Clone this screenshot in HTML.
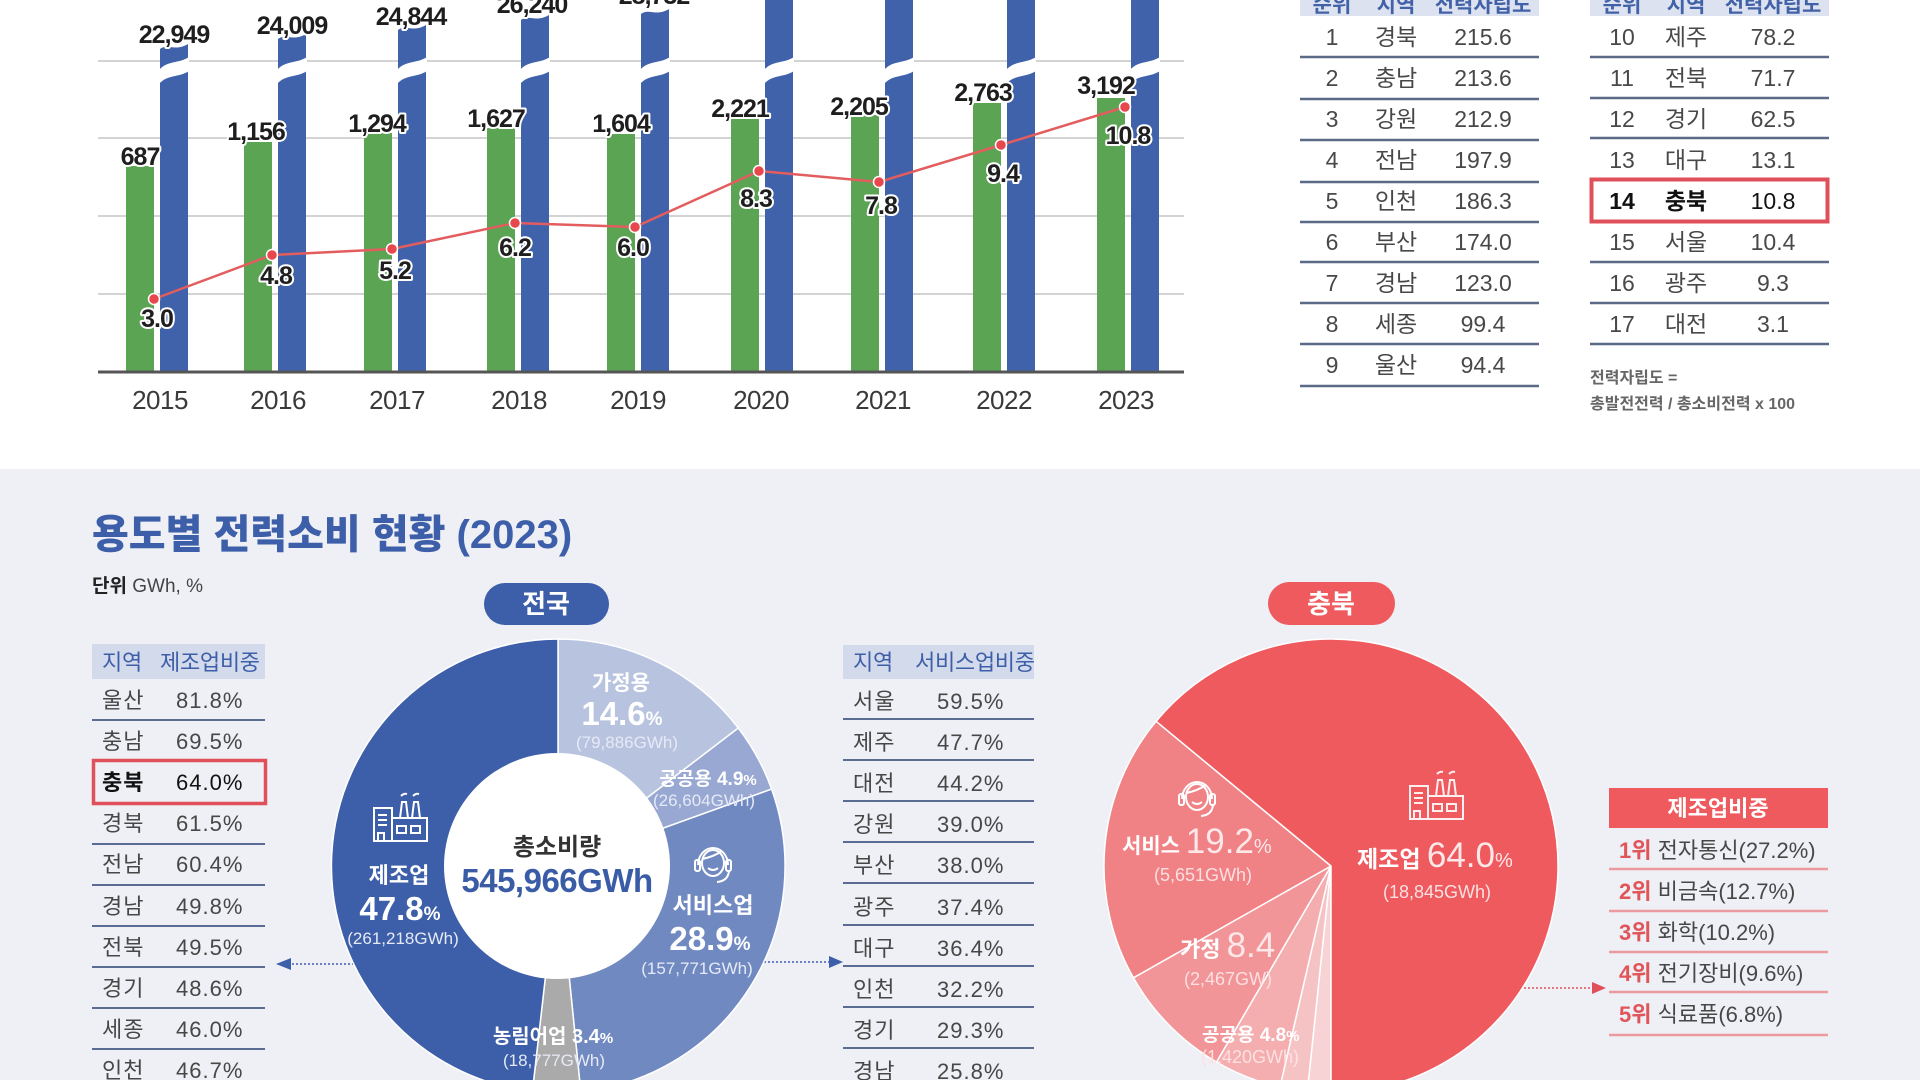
<!DOCTYPE html>
<html><head><meta charset="utf-8"><style>
html,body{margin:0;padding:0;background:#fff;}
body{width:1920px;height:1080px;overflow:hidden;}
svg{display:block;}
text{font-family:"Liberation Sans","Noto Sans CJK KR",sans-serif;}
.lbl{font-weight:bold;font-size:25px;fill:#1e1e1e;stroke:#fff;stroke-width:4px;paint-order:stroke;stroke-linejoin:round;letter-spacing:-1px;text-anchor:middle;}
.yr{font-size:26px;fill:#3a3a3a;text-anchor:middle;letter-spacing:-0.5px;}
.tt{font-size:23px;fill:#484848;text-anchor:middle;}
.th{font-size:21px;fill:#4262a8;font-weight:bold;text-anchor:middle;}
.bt{font-size:22px;fill:#474747;letter-spacing:1px;}
.bh{font-size:22px;fill:#3d5ea8;font-weight:normal;letter-spacing:-0.3px;}
.w{fill:#fff;text-anchor:middle;}
.sub{fill:#e6eaf6;font-size:17px;text-anchor:middle;}
.rsub{fill:#fde0e1;font-size:18px;text-anchor:middle;}
.rl{font-size:22px;fill:#474747;}
.rn{font-weight:bold;fill:#e0555a;}
</style></head><body>
<svg width="1920" height="1080" viewBox="0 0 1920 1080" xmlns="http://www.w3.org/2000/svg">
<rect width="1920" height="1080" fill="#fff"/>
<rect y="469" width="1920" height="611" fill="#eef0f5"/>

<!-- grid -->
<g stroke="#d3d3d3" stroke-width="2">
<line x1="98" y1="61" x2="1184" y2="61"/>
<line x1="98" y1="138" x2="1184" y2="138"/>
<line x1="98" y1="216" x2="1184" y2="216"/>
<line x1="98" y1="294" x2="1184" y2="294"/>
</g>

<!-- green bars -->
<g fill="#5ba454">
<rect x="126" y="166" width="28" height="206"/>
<rect x="244" y="142" width="28" height="230"/>
<rect x="364" y="133" width="28" height="239"/>
<rect x="487" y="128" width="28" height="244"/>
<rect x="607" y="134" width="28" height="238"/>
<rect x="731" y="119" width="28" height="253"/>
<rect x="851" y="115" width="28" height="257"/>
<rect x="973" y="103" width="28" height="269"/>
<rect x="1097" y="98" width="28" height="274"/>
</g>
<!-- blue bars -->
<g fill="#3f62ab">
<path d="M160,49 C168,43 174,52 188,44 L188,372 L160,372 Z"/>
<path d="M278,39 C286,33 292,42 306,34 L306,372 L278,372 Z"/>
<path d="M398,30 C406,24 412,33 426,25 L426,372 L398,372 Z"/>
<path d="M521,20 C529,14 535,23 549,15 L549,372 L521,372 Z"/>
<path d="M641,14 C649,8 655,17 669,9 L669,372 L641,372 Z"/>
<rect x="765" y="-10" width="28" height="382"/>
<rect x="885" y="-10" width="28" height="382"/>
<rect x="1007" y="-10" width="28" height="382"/>
<rect x="1131" y="-10" width="28" height="382"/>
</g>
<!-- breaks -->
<g fill="#fff">
<path d="M159,70 C168,60 178,64 189,57 L189,71 C178,78 168,74 159,84 Z"/>
<path d="M277,70 C286,60 296,64 307,57 L307,71 C296,78 286,74 277,84 Z"/>
<path d="M397,70 C406,60 416,64 427,57 L427,71 C416,78 406,74 397,84 Z"/>
<path d="M520,70 C529,60 539,64 550,57 L550,71 C539,78 529,74 520,84 Z"/>
<path d="M640,70 C649,60 659,64 670,57 L670,71 C659,78 649,74 640,84 Z"/>
<path d="M764,70 C773,60 783,64 794,57 L794,71 C783,78 773,74 764,84 Z"/>
<path d="M884,70 C893,60 903,64 914,57 L914,71 C903,78 893,74 884,84 Z"/>
<path d="M1006,70 C1015,60 1025,64 1036,57 L1036,71 C1025,78 1015,74 1006,84 Z"/>
<path d="M1130,70 C1139,60 1149,64 1160,57 L1160,71 C1149,78 1139,74 1130,84 Z"/>
</g>
<line x1="98" y1="372" x2="1184" y2="372" stroke="#555" stroke-width="3"/>

<!-- line -->
<polyline points="154,299 272,255 392,249 515,223 635,227 759,171 879,182 1001,145 1125,107" fill="none" stroke="#e35d5f" stroke-width="2.5"/>
<g fill="#e8474e" stroke="#fff" stroke-width="1.5">
<circle cx="154" cy="299" r="5.5"/><circle cx="272" cy="255" r="5.5"/><circle cx="392" cy="249" r="5.5"/>
<circle cx="515" cy="223" r="5.5"/><circle cx="635" cy="227" r="5.5"/><circle cx="759" cy="171" r="5.5"/>
<circle cx="879" cy="182" r="5.5"/><circle cx="1001" cy="145" r="5.5"/><circle cx="1125" cy="107" r="5.5"/>
</g>

<!-- labels blue -->
<text class="lbl" x="174" y="43">22,949</text>
<text class="lbl" x="292" y="34">24,009</text>
<text class="lbl" x="411" y="25">24,844</text>
<text class="lbl" x="532" y="13">26,240</text>
<text class="lbl" x="654" y="4">28,732</text>
<!-- labels green -->
<text class="lbl" x="140" y="165">687</text>
<text class="lbl" x="256" y="140">1,156</text>
<text class="lbl" x="377" y="132">1,294</text>
<text class="lbl" x="496" y="127">1,627</text>
<text class="lbl" x="621" y="132">1,604</text>
<text class="lbl" x="740" y="117">2,221</text>
<text class="lbl" x="859" y="115">2,205</text>
<text class="lbl" x="983" y="101">2,763</text>
<text class="lbl" x="1106" y="94">3,192</text>
<!-- line labels -->
<text class="lbl" x="157" y="327">3.0</text>
<text class="lbl" x="276" y="284">4.8</text>
<text class="lbl" x="395" y="279">5.2</text>
<text class="lbl" x="515" y="256">6.2</text>
<text class="lbl" x="633" y="256">6.0</text>
<text class="lbl" x="756" y="207">8.3</text>
<text class="lbl" x="881" y="214">7.8</text>
<text class="lbl" x="1003" y="182">9.4</text>
<text class="lbl" x="1128" y="144">10.8</text>
<!-- years -->
<text class="yr" x="160" y="409">2015</text>
<text class="yr" x="278" y="409">2016</text>
<text class="yr" x="397" y="409">2017</text>
<text class="yr" x="519" y="409">2018</text>
<text class="yr" x="638" y="409">2019</text>
<text class="yr" x="761" y="409">2020</text>
<text class="yr" x="883" y="409">2021</text>
<text class="yr" x="1004" y="409">2022</text>
<text class="yr" x="1126" y="409">2023</text>

<!-- top tables -->
<rect x="1300" y="-6" width="239" height="22" fill="#dde2f0"/>
<rect x="1590" y="-6" width="239" height="22" fill="#dde2f0"/>
<text class="th" x="1332" y="12">순위</text><text class="th" x="1396" y="12">지역</text><text class="th" x="1483" y="12">전력자립도</text>
<text class="th" x="1622" y="12">순위</text><text class="th" x="1686" y="12">지역</text><text class="th" x="1773" y="12">전력자립도</text>
<g stroke="#5b6a86" stroke-width="2.5">
<line x1="1300" y1="57" x2="1539" y2="57"/><line x1="1300" y1="99" x2="1539" y2="99"/><line x1="1300" y1="140" x2="1539" y2="140"/>
<line x1="1300" y1="182" x2="1539" y2="182"/><line x1="1300" y1="222" x2="1539" y2="222"/><line x1="1300" y1="262" x2="1539" y2="262"/>
<line x1="1300" y1="303" x2="1539" y2="303"/><line x1="1300" y1="344" x2="1539" y2="344"/><line x1="1300" y1="386" x2="1539" y2="386"/>
<line x1="1590" y1="57" x2="1829" y2="57"/><line x1="1590" y1="98" x2="1829" y2="98"/><line x1="1590" y1="138" x2="1829" y2="138"/>
<line x1="1590" y1="262" x2="1829" y2="262"/><line x1="1590" y1="303" x2="1829" y2="303"/><line x1="1590" y1="344" x2="1829" y2="344"/>
</g>
<rect x="1591.5" y="179.5" width="236" height="42" fill="none" stroke="#e0505a" stroke-width="4"/>
<g class="tt">
<text class="tt" x="1332" y="45">1</text><text class="tt" x="1396" y="45">경북</text><text class="tt" x="1483" y="45">215.6</text>
<text class="tt" x="1332" y="86">2</text><text class="tt" x="1396" y="86">충남</text><text class="tt" x="1483" y="86">213.6</text>
<text class="tt" x="1332" y="127">3</text><text class="tt" x="1396" y="127">강원</text><text class="tt" x="1483" y="127">212.9</text>
<text class="tt" x="1332" y="168">4</text><text class="tt" x="1396" y="168">전남</text><text class="tt" x="1483" y="168">197.9</text>
<text class="tt" x="1332" y="209">5</text><text class="tt" x="1396" y="209">인천</text><text class="tt" x="1483" y="209">186.3</text>
<text class="tt" x="1332" y="250">6</text><text class="tt" x="1396" y="250">부산</text><text class="tt" x="1483" y="250">174.0</text>
<text class="tt" x="1332" y="291">7</text><text class="tt" x="1396" y="291">경남</text><text class="tt" x="1483" y="291">123.0</text>
<text class="tt" x="1332" y="332">8</text><text class="tt" x="1396" y="332">세종</text><text class="tt" x="1483" y="332">99.4</text>
<text class="tt" x="1332" y="373">9</text><text class="tt" x="1396" y="373">울산</text><text class="tt" x="1483" y="373">94.4</text>
<text class="tt" x="1622" y="45">10</text><text class="tt" x="1686" y="45">제주</text><text class="tt" x="1773" y="45">78.2</text>
<text class="tt" x="1622" y="86">11</text><text class="tt" x="1686" y="86">전북</text><text class="tt" x="1773" y="86">71.7</text>
<text class="tt" x="1622" y="127">12</text><text class="tt" x="1686" y="127">경기</text><text class="tt" x="1773" y="127">62.5</text>
<text class="tt" x="1622" y="168">13</text><text class="tt" x="1686" y="168">대구</text><text class="tt" x="1773" y="168">13.1</text>
<text class="tt" x="1622" y="209" style="font-weight:bold;fill:#111">14</text><text class="tt" x="1686" y="209" style="font-weight:bold;fill:#111">충북</text><text class="tt" x="1773" y="209" style="fill:#111">10.8</text>
<text class="tt" x="1622" y="250">15</text><text class="tt" x="1686" y="250">서울</text><text class="tt" x="1773" y="250">10.4</text>
<text class="tt" x="1622" y="291">16</text><text class="tt" x="1686" y="291">광주</text><text class="tt" x="1773" y="291">9.3</text>
<text class="tt" x="1622" y="332">17</text><text class="tt" x="1686" y="332">대전</text><text class="tt" x="1773" y="332">3.1</text>
</g>
<text x="1590" y="383" font-size="16" font-weight="bold" fill="#666">전력자립도 =</text>
<text x="1590" y="409" font-size="16" font-weight="bold" fill="#666">총발전전력 / 총소비전력 x 100</text>

<!-- bottom title -->
<text x="92" y="548" font-size="40" font-weight="900" fill="#3d5ea8">용도별 전력소비 현황 (2023)</text>
<text x="92" y="592" font-size="19" fill="#222"><tspan font-weight="bold">단위</tspan><tspan fill="#444"> GWh, %</tspan></text>

<!-- left table -->
<rect x="92" y="644" width="173" height="35" fill="#d3daeb"/>
<text class="bh" x="102" y="670">지역</text><text class="bh" x="160" y="670">제조업비중</text>
<g stroke="#5a6c93" stroke-width="2">
<line x1="92" y1="720" x2="265" y2="720"/><line x1="92" y1="844" x2="265" y2="844"/><line x1="92" y1="885" x2="265" y2="885"/>
<line x1="92" y1="926" x2="265" y2="926"/><line x1="92" y1="967" x2="265" y2="967"/><line x1="92" y1="1008" x2="265" y2="1008"/>
<line x1="92" y1="1049" x2="265" y2="1049"/>
</g>
<rect x="93.5" y="760.5" width="172" height="43" fill="none" stroke="#e0505a" stroke-width="3.5"/>
<text class="bt" x="102" y="708">울산</text><text class="bt" x="176" y="708">81.8%</text>
<text class="bt" x="102" y="749">충남</text><text class="bt" x="176" y="749">69.5%</text>
<text class="bt" x="102" y="790" style="font-weight:bold;fill:#111">충북</text><text class="bt" x="176" y="790" style="fill:#111">64.0%</text>
<text class="bt" x="102" y="831">경북</text><text class="bt" x="176" y="831">61.5%</text>
<text class="bt" x="102" y="872">전남</text><text class="bt" x="176" y="872">60.4%</text>
<text class="bt" x="102" y="914">경남</text><text class="bt" x="176" y="914">49.8%</text>
<text class="bt" x="102" y="955">전북</text><text class="bt" x="176" y="955">49.5%</text>
<text class="bt" x="102" y="996">경기</text><text class="bt" x="176" y="996">48.6%</text>
<text class="bt" x="102" y="1037">세종</text><text class="bt" x="176" y="1037">46.0%</text>
<text class="bt" x="102" y="1078">인천</text><text class="bt" x="176" y="1078">46.7%</text>

<!-- service table -->
<rect x="843" y="645" width="191" height="34" fill="#d3daeb"/>
<text class="bh" x="853" y="670">지역</text><text class="bh" x="915" y="670">서비스업비중</text>
<g stroke="#5a6c93" stroke-width="2">
<line x1="843" y1="719" x2="1034" y2="719"/><line x1="843" y1="760" x2="1034" y2="760"/><line x1="843" y1="801" x2="1034" y2="801"/>
<line x1="843" y1="842" x2="1034" y2="842"/><line x1="843" y1="883" x2="1034" y2="883"/><line x1="843" y1="925" x2="1034" y2="925"/>
<line x1="843" y1="966" x2="1034" y2="966"/><line x1="843" y1="1007" x2="1034" y2="1007"/><line x1="843" y1="1048" x2="1034" y2="1048"/>
</g>
<text class="bt" x="853" y="709">서울</text><text class="bt" x="937" y="709">59.5%</text>
<text class="bt" x="853" y="750">제주</text><text class="bt" x="937" y="750">47.7%</text>
<text class="bt" x="853" y="791">대전</text><text class="bt" x="937" y="791">44.2%</text>
<text class="bt" x="853" y="832">강원</text><text class="bt" x="937" y="832">39.0%</text>
<text class="bt" x="853" y="873">부산</text><text class="bt" x="937" y="873">38.0%</text>
<text class="bt" x="853" y="915">광주</text><text class="bt" x="937" y="915">37.4%</text>
<text class="bt" x="853" y="956">대구</text><text class="bt" x="937" y="956">36.4%</text>
<text class="bt" x="853" y="997">인천</text><text class="bt" x="937" y="997">32.2%</text>
<text class="bt" x="853" y="1038">경기</text><text class="bt" x="937" y="1038">29.3%</text>
<text class="bt" x="853" y="1079">경남</text><text class="bt" x="937" y="1079">25.8%</text>

<!-- arrows -->
<line x1="292" y1="964" x2="353" y2="964" stroke="#3d5ea8" stroke-width="1.5" stroke-dasharray="2 2"/>
<polygon points="276,964 291,958 291,970" fill="#3d5ea8"/>
<line x1="764" y1="962" x2="830" y2="962" stroke="#3d5ea8" stroke-width="1.5" stroke-dasharray="2 2"/>
<polygon points="843,962 829,956 829,968" fill="#3d5ea8"/>
<line x1="1524" y1="988" x2="1592" y2="988" stroke="#e0505a" stroke-width="1.5" stroke-dasharray="2 2"/>
<polygon points="1606,988 1592,982 1592,994" fill="#e0505a"/>

<!-- pills -->
<rect x="484" y="583" width="125" height="42" rx="21" fill="#3d5ea8"/>
<text x="546" y="613" font-size="26" font-weight="bold" fill="#fff" text-anchor="middle">전국</text>
<rect x="1268" y="582" width="127" height="43" rx="21.5" fill="#ee5a5e"/>
<text x="1331" y="613" font-size="26" font-weight="bold" fill="#fff" text-anchor="middle">충북</text>

<!-- national donut -->
<g stroke="#fff" stroke-width="1.5">
<path d="M558,866 L558,639 A227,227 0 0 1 738.3,728 Z" fill="#b8c3df"/>
<path d="M558,866 L738.3,728 A227,227 0 0 1 771.6,789.1 Z" fill="#98a8d2"/>
<path d="M558,866 L771.6,789.1 A227,227 0 0 1 580.8,1091.9 Z" fill="#7189c1"/>
<path d="M558,866 L580.8,1091.9 A227,227 0 0 1 532.4,1091.5 Z" fill="#aaaaaa"/>
<path d="M558,866 L532.4,1091.5 A227,227 0 0 1 558,639 Z" fill="#3d5ea8"/>
</g>
<circle cx="557" cy="866" r="113" fill="#fff"/>
<text x="557" y="855" font-size="24" font-weight="bold" fill="#333" text-anchor="middle">총소비량</text>
<text x="557" y="892" font-size="33" font-weight="bold" fill="#3a5ca6" text-anchor="middle" letter-spacing="-0.5">545,966GWh</text>

<text class="w" x="621" y="690" font-size="21" font-weight="bold">가정용</text>
<text class="w" x="622" y="725" font-weight="bold"><tspan font-size="33">14.6</tspan><tspan font-size="19">%</tspan></text>
<text class="sub" x="627" y="748">(79,886GWh)</text>
<text class="w" x="708" y="785" font-size="19" font-weight="bold">공공용 4.9<tspan font-size="15">%</tspan></text>
<text class="sub" x="704" y="806" font-size="16">(26,604GWh)</text>
<text class="w" x="713" y="913" font-size="22" font-weight="bold">서비스업</text>
<text class="w" x="710" y="950" font-weight="bold"><tspan font-size="33">28.9</tspan><tspan font-size="19">%</tspan></text>
<text class="sub" x="697" y="974">(157,771GWh)</text>
<text class="w" x="399" y="883" font-size="22" font-weight="bold">제조업</text>
<text class="w" x="400" y="920" font-weight="bold"><tspan font-size="33">47.8</tspan><tspan font-size="19">%</tspan></text>
<text class="sub" x="403" y="944" fill="#c8d0e8">(261,218GWh)</text>
<text class="w" x="553" y="1043" font-size="20" font-weight="bold">농림어업 3.4<tspan font-size="15">%</tspan></text>
<text class="sub" x="554" y="1066">(18,777GWh)</text>

<!-- icons national -->
<g transform="translate(373,790)" stroke="#fff" fill="none" stroke-width="2">
<rect x="1" y="18" width="18" height="33"/>
<path d="M5,25 H14 M5,30 H14 M5,35 H14"/>
<path d="M5,51 V43 H11 V51"/>
<rect x="19" y="28" width="35" height="23"/>
<rect x="24" y="36" width="9" height="7"/><rect x="38" y="36" width="9" height="7"/>
<path d="M27,28 L29,12 H33 L35,28 M39,28 L41,12 H45 L47,28"/>
<path d="M28,6 q3,-3 6,-2 M40,6 q3,-3 6,-2"/>
</g>
<g transform="translate(713,863)" stroke="#fff" fill="none" stroke-width="2">
<ellipse cx="0" cy="0" rx="11" ry="13"/>
<path d="M-15,2 A15,17 0 0 1 15,2"/>
<rect x="-18" y="-3" width="5" height="11" rx="2"/><rect x="13" y="-3" width="5" height="11" rx="2"/>
<path d="M16,8 Q15,18 4,19"/>
<path d="M-5,5 Q0,9 5,5"/>
<path d="M-11,-4 Q0,-6 9,-12"/>
</g>

<!-- Chungbuk pie -->
<g stroke="#fff" stroke-width="1.5">
<path d="M1331,866 L1331,1093 A227,227 0 0 1 1307.3,1091.8 Z" fill="#f8d3d5"/>
<path d="M1331,866 L1307.3,1091.8 A227,227 0 0 1 1279.9,1087.2 Z" fill="#f6c3c5"/>
<path d="M1331,866 L1279.9,1087.2 A227,227 0 0 1 1216.5,1062 Z" fill="#f4aeb0"/>
<path d="M1331,866 L1216.5,1062 A227,227 0 0 1 1133.4,977.8 Z" fill="#f29598"/>
<path d="M1331,866 L1133.4,977.8 A227,227 0 0 1 1156.1,721.3 Z" fill="#f08185"/>
<path d="M1331,866 L1156.1,721.3 A227,227 0 1 1 1331,1093 Z" fill="#ef5a5f"/>
</g>
<text x="1357" y="867" fill="#fff"><tspan font-size="23" font-weight="bold">제조업 </tspan><tspan font-size="35" fill="#fde8e9">64.0</tspan><tspan font-size="20" fill="#fde8e9">%</tspan></text>
<text class="rsub" x="1437" y="898">(18,845GWh)</text>
<text x="1122" y="853" fill="#fff"><tspan font-size="21" font-weight="bold">서비스 </tspan><tspan font-size="35" fill="#fde8e9">19.2</tspan><tspan font-size="20" fill="#fde8e9">%</tspan></text>
<text class="rsub" x="1203" y="881">(5,651GWh)</text>
<text x="1180" y="957" fill="#fff"><tspan font-size="22" font-weight="bold">가정 </tspan><tspan font-size="35" fill="#fde8e9">8.4</tspan></text>
<text class="rsub" x="1228" y="985">(2,467GW)</text>
<text x="1202" y="1041" fill="#fff" font-size="19" font-weight="bold">공공용 4.8<tspan font-size="15">%</tspan></text>
<text class="rsub" x="1250" y="1063">(1,420GWh)</text>

<g transform="translate(1409,768)" stroke="#fff" fill="none" stroke-width="2" opacity="0.9">
<rect x="1" y="18" width="18" height="33"/>
<path d="M5,25 H14 M5,30 H14 M5,35 H14"/>
<path d="M5,51 V43 H11 V51"/>
<rect x="19" y="28" width="35" height="23"/>
<rect x="24" y="36" width="9" height="7"/><rect x="38" y="36" width="9" height="7"/>
<path d="M27,28 L29,12 H33 L35,28 M39,28 L41,12 H45 L47,28"/>
<path d="M28,6 q3,-3 6,-2 M40,6 q3,-3 6,-2"/>
</g>
<g transform="translate(1197,797)" stroke="#fff" fill="none" stroke-width="2">
<ellipse cx="0" cy="0" rx="11" ry="13"/>
<path d="M-15,2 A15,17 0 0 1 15,2"/>
<rect x="-18" y="-3" width="5" height="11" rx="2"/><rect x="13" y="-3" width="5" height="11" rx="2"/>
<path d="M16,8 Q15,18 4,19"/>
<path d="M-5,5 Q0,9 5,5"/>
<path d="M-11,-4 Q0,-6 9,-12"/>
</g>

<!-- right list -->
<rect x="1609" y="788" width="219" height="40" fill="#ee5a5e"/>
<text x="1718" y="816" font-size="22" font-weight="bold" fill="#fff" text-anchor="middle">제조업비중</text>
<g stroke="#eb9a9d" stroke-width="2.5">
<line x1="1609" y1="869" x2="1828" y2="869"/><line x1="1609" y1="911" x2="1828" y2="911"/>
<line x1="1609" y1="952" x2="1828" y2="952"/><line x1="1609" y1="992" x2="1828" y2="992"/>
<line x1="1609" y1="1035" x2="1828" y2="1035"/>
</g>
<text class="rl" x="1619" y="858"><tspan class="rn">1위</tspan> 전자통신(27.2%)</text>
<text class="rl" x="1619" y="899"><tspan class="rn">2위</tspan> 비금속(12.7%)</text>
<text class="rl" x="1619" y="940"><tspan class="rn">3위</tspan> 화학(10.2%)</text>
<text class="rl" x="1619" y="981"><tspan class="rn">4위</tspan> 전기장비(9.6%)</text>
<text class="rl" x="1619" y="1022"><tspan class="rn">5위</tspan> 식료품(6.8%)</text>
</svg>
</body></html>
